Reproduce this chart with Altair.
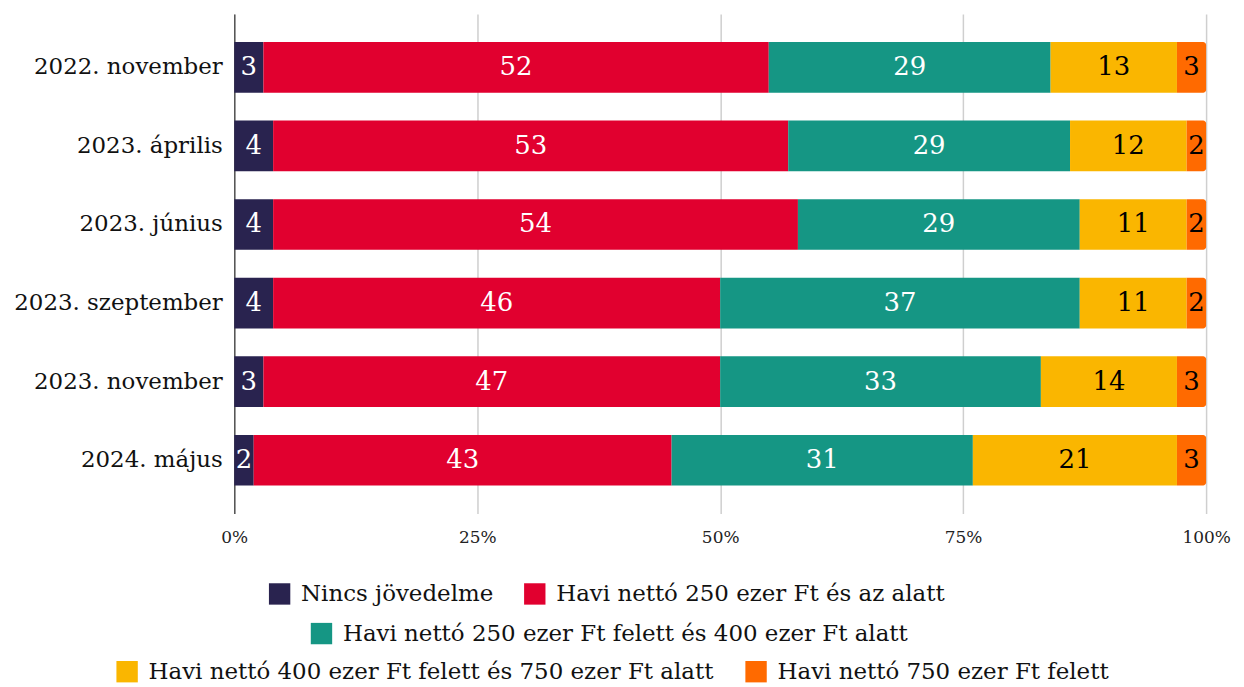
import altair as alt
import pandas as pd

periods = ["2022. november", "2023. április", "2023. június",
           "2023. szeptember", "2023. november", "2024. május"]
categories = [
    "Nincs jövedelme",
    "Havi nettó 250 ezer Ft és az alatt",
    "Havi nettó 250 ezer Ft felett és 400 ezer Ft alatt",
    "Havi nettó 400 ezer Ft felett és 750 ezer Ft alatt",
    "Havi nettó 750 ezer Ft felett",
]
colors = ["#29234f", "#e1002f", "#159684", "#fab600", "#ff6a00"]

nincs = [3, 4, 4, 4, 3, 2]
le250 = [52, 53, 54, 46, 47, 43]
r250_400 = [29, 29, 29, 37, 33, 31]
r400_750 = [13, 12, 11, 11, 14, 21]
f750 = [3, 2, 2, 2, 3, 3]

series = [nincs, le250, r250_400, r400_750, f750]
rows = []
for ci, (cat, vals) in enumerate(zip(categories, series)):
    for p, v in zip(periods, vals):
        rows.append({"period": p, "category": cat, "value": v, "order": ci})
df = pd.DataFrame(rows)

FONT = "DejaVu Serif"

base = alt.Chart(df).transform_stack(
    stack="value", groupby=["period"], as_=["v0", "v1"],
    sort=[alt.SortField("order", order="ascending")],
)

x_enc = alt.X("v0:Q", title=None,
              scale=alt.Scale(domain=[0, 100], nice=False),
              axis=alt.Axis(values=[0, 25, 50, 75, 100], labelExpr="datum.value + '%'",
                            grid=True, gridColor="#cfcfcf", gridWidth=1.5,
                            domain=False, ticks=False, labelFontSize=17,
                            labelFlush=False,
                            labelPadding=16, labelColor="#222", labelFont=FONT))
y_enc = alt.Y("period:N", sort=periods, title=None,
              scale=alt.Scale(paddingInner=0.355, paddingOuter=0.355),
              axis=alt.Axis(labelFontSize=23, ticks=False, domain=True,
                            domainColor="#555555", domainWidth=1.5, labelLimit=0,
                            labelPadding=12, labelColor="#111", labelFont=FONT))


def legend(x, y):
    return alt.Legend(orient="none", legendX=x, legendY=y, direction="horizontal",
                      title=None, symbolType="square", symbolSize=460,
                      symbolStrokeWidth=0, labelFontSize=23, labelLimit=0,
                      labelFont=FONT, labelColor="#111", columnPadding=30,
                      labelOffset=10)


def bars(idxs, leg, radius=False):
    cats = [categories[i] for i in range(len(categories)) if i in leg[0]]
    cols = [colors[i] for i in range(len(categories)) if i in leg[0]]
    mk = dict(cornerRadiusTopRight=3, cornerRadiusBottomRight=3) if radius else {}
    return (
        base.transform_filter(alt.FieldOneOfPredicate(field="order", oneOf=idxs))
        .mark_bar(**mk)
        .encode(
            x=x_enc, x2="v1:Q", y=y_enc,
            color=alt.Color("category:N", scale=alt.Scale(domain=cats, range=cols),
                            legend=legend(leg[1], leg[2])),
        )
    )


g1 = ([0, 1], 34, 570)
g2 = ([2], 76, 610)
g3 = ([3, 4], -119, 648)

layerA = bars([0, 1], g1)
layerB = bars([2], g2)
layerC = alt.layer(bars([3], g3), bars([4], g3, radius=True))

text = base.transform_calculate(mid="(datum.v0 + datum.v1) / 2").mark_text(
    fontSize=26, font=FONT, baseline="middle", align="center"
).encode(
    x="mid:Q", y=y_enc, text="value:Q",
    color=alt.condition(alt.datum.order < 3, alt.value("white"), alt.value("black")),
)

chart = alt.layer(layerA, layerB, layerC, text).resolve_scale(color="independent").properties(
    width=975, height=501
).configure(font=FONT).configure_view(stroke=None)

chart.save("out.html", embed_options={"renderer": "svg", "actions": False})
